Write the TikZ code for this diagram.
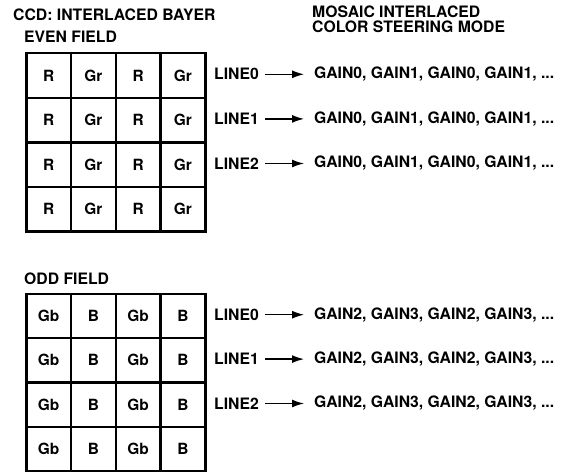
\documentclass[tikz,border=0pt]{standalone}
\usepackage{fontspec}
\setmainfont{TeX Gyre Heros}
\usetikzlibrary{arrows.meta}
\begin{document}
\begin{tikzpicture}[x=1bp,y=-1bp,
  cell/.style={draw, line width=2.5bp, minimum width=44.75bp, minimum height=44.6bp,
    inner sep=0pt, anchor=north west, font=\bfseries\fontsize{15.5}{17}\selectfont},
  lbl/.style={inner sep=0pt, anchor=west, font=\bfseries\fontsize{15.8}{17}\selectfont},
  conn/.style={line width=1.3bp, -{Latex[length=12bp,width=8bp]}}]
\useasboundingbox (0,0) rectangle (574,472);
% titles
\node[lbl] (t1) at (13,15) {CCD: INTERLACED BAYER};
\node[lbl] (t2) at (24,37) {EVEN FIELD};
\node[lbl] (t3) at (312,12) {MOSAIC INTERLACED};
\node[lbl] (t3b) at (312,26.5) {COLOR STEERING MODE};
\node[lbl] (t4) at (24,278.5) {ODD FIELD};
% even grid
\foreach \r in {0,...,3} {
  \foreach \c/\t in {0/R,1/Gr,2/R,3/Gr} {
    \node[cell] (e\r\c) at (25+44.75*\c, 52+44.6*\r) {\t};
  }
}
% odd grid
\foreach \r in {0,...,3} {
  \foreach \c/\t in {0/Gb,1/B,2/Gb,3/B} {
    \node[cell, minimum height=44.4bp] (o\r\c) at (25+44.75*\c, 292.5+44.4*\r) {\t};
  }
}
% even lines
\foreach \r in {0,1,2} {
  \node[lbl] (el\r) at (214, 74.3+44.6*\r) {LINE\r};
  \node[lbl] (eg\r) at (314, 74.3+44.6*\r) {GAIN0, GAIN1, GAIN0, GAIN1, ...};
  \draw[conn, shorten <=6bp, shorten >=10bp] (el\r.east) -- (eg\r.west);
}
% odd lines
\foreach \r in {0,1,2} {
  \node[lbl] (ol\r) at (214, 314.7+44.4*\r) {LINE\r};
  \node[lbl] (og\r) at (314, 314.7+44.4*\r) {GAIN2, GAIN3, GAIN2, GAIN3, ...};
  \draw[conn, shorten <=6bp, shorten >=10bp] (ol\r.east) -- (og\r.west);
}
\end{tikzpicture}
\end{document}
